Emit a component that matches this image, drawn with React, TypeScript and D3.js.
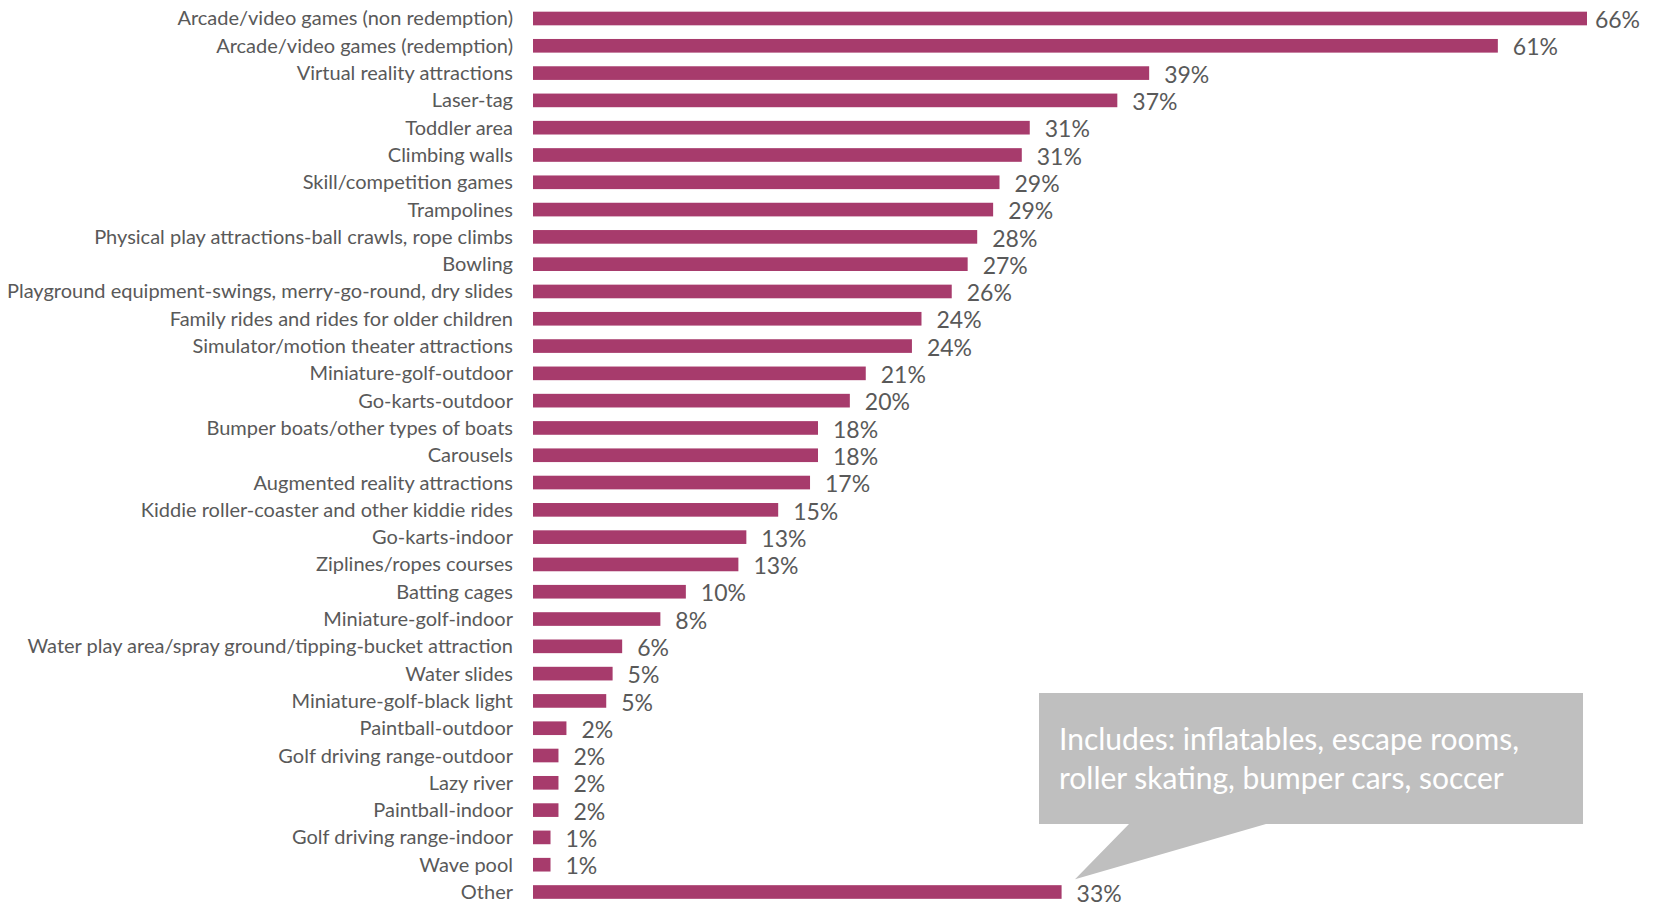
import React from "react";
import * as d3 from "d3";

const categories = [
  "Arcade/video games (non redemption)",
  "Arcade/video games (redemption)",
  "Virtual reality attractions",
  "Laser-tag",
  "Toddler area",
  "Climbing walls",
  "Skill/competition games",
  "Trampolines",
  "Physical play attractions-ball crawls, rope climbs",
  "Bowling",
  "Playground equipment-swings, merry-go-round, dry slides",
  "Family rides and rides for older children",
  "Simulator/motion theater attractions",
  "Miniature-golf-outdoor",
  "Go-karts-outdoor",
  "Bumper boats/other types of boats",
  "Carousels",
  "Augmented reality attractions",
  "Kiddie roller-coaster and other kiddie rides",
  "Go-karts-indoor",
  "Ziplines/ropes courses",
  "Batting cages",
  "Miniature-golf-indoor",
  "Water play area/spray ground/tipping-bucket attraction",
  "Water slides",
  "Miniature-golf-black light",
  "Paintball-outdoor",
  "Golf driving range-outdoor",
  "Lazy river",
  "Paintball-indoor",
  "Golf driving range-indoor",
  "Wave pool",
  "Other",
];

const values = [
  66.2, 60.6, 38.7, 36.7, 31.2, 30.7, 29.3, 28.9, 27.9, 27.3, 26.3, 24.4, 23.8,
  20.9, 19.9, 17.9, 17.9, 17.4, 15.4, 13.4, 12.9, 9.6, 8.0, 5.6, 5.0, 4.6, 2.1,
  1.6, 1.6, 1.6, 1.1, 1.1, 33.2,
];

const calloutLines = [
  "Includes: inflatables, escape rooms,",
  "roller skating, bumper cars, soccer",
];

const W = 1657;
const H = 902;
const BAR_X0 = 533;
const LABEL_RIGHT = 513;
const CHART_RIGHT = 1640;
const BAR_COLOR = "#A73B6C";
const TEXT_COLOR = "#595959";

export default function App() {
  const x = d3.scaleLinear().domain([0, 66.2]).range([BAR_X0, 1587]);
  const y = d3
    .scaleBand<string>()
    .domain(categories)
    .range([18.5 - 13.65, 892 + 13.65])
    .paddingInner(0.5)
    .paddingOuter(0.25);

  const bw = y.bandwidth();
  const font = "Lato, 'Open Sans', sans-serif";

  // callout geometry
  const bx0 = 1039, by0 = 693, bx1 = 1583, by1 = 824;
  const otherY = (y("Other") as number);
  const tipX = 1075, tipY = otherY - 6;

  return (
    <svg
      width={W}
      height={H}
      style={{ position: "absolute", left: 0, top: 0, background: "#fff" }}
    >
      {categories.map((c, i) => {
        const yy = y(c) as number;
        const end = x(values[i]);
        const lbl = Math.round(values[i]) + "%";
        const overflow = end + 15 + 48 > CHART_RIGHT;
        return (
          <g key={c}>
            <text
              x={LABEL_RIGHT}
              y={yy + bw / 2}
              dy="0.35em"
              textAnchor="end"
              fontFamily={font}
              fontSize={20}
              fill={TEXT_COLOR}
            >
              {c}
            </text>
            <rect x={BAR_X0} y={yy} width={end - BAR_X0} height={bw} fill={BAR_COLOR} />
            <text
              x={overflow ? CHART_RIGHT : end + 15}
              y={yy + bw / 2}
              dy="0.42em"
              textAnchor={overflow ? "end" : "start"}
              fontFamily={font}
              fontSize={23}
              fill={TEXT_COLOR}
            >
              {lbl}
            </text>
          </g>
        );
      })}
      <path
        d={`M${bx0},${by0}H${bx1}V${by1}H1266L${tipX},${tipY}L1129,${by1}H${bx0}Z`}
        fill="#BFBFBF"
      />
      {calloutLines.map((t, i) => (
        <text
          key={i}
          x={1059}
          y={750 + i * 39}
          fontFamily={font}
          fontSize={30}
          fill="#ffffff"
        >
          {t}
        </text>
      ))}
    </svg>
  );
}
